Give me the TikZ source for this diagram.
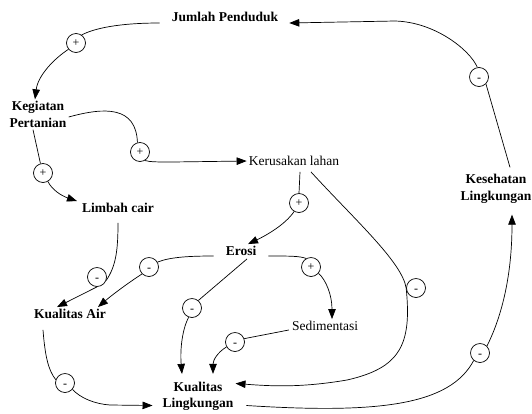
\documentclass[tikz,border=0pt]{standalone}
\usepackage{fontspec}
\setmainfont{Liberation Serif}
\usetikzlibrary{arrows.meta}
\begin{document}
\begin{tikzpicture}[x=1pt,y=-1pt,
  every node/.style={inner sep=2pt, align=center},
  var/.style={font=\fontsize{13.5}{16.5}\selectfont\bfseries},
  plain/.style={font=\fontsize{13.5}{16.5}\selectfont},
  pol/.style={circle, draw, line width=0.7pt, minimum size=19pt, inner sep=0pt,
              font=\fontsize{12}{12}\selectfont},
  link/.style={line width=0.7pt},
  arr/.style={link, -{Triangle[length=10pt,width=7.5pt]}}
]
\useasboundingbox (0,0) rectangle (532,413);

% variables
\node[var]   (jp) at (225,16.5)  {Jumlah Penduduk};
\node[var]   (kp) at (38,114.5)  {Kegiatan\\Pertanian};
\node[plain] (kr) at (294,161)   {Kerusakan lahan};
\node[var]   (lc) at (118,208)   {Limbah cair};
\node[var]   (er) at (241,251)   {Erosi};
\node[plain] (sd) at (325,326)   {Sedimentasi};
\node[var]   (ka) at (70,314)    {Kualitas Air};
\node[var]   (kl) at (198,396.5) {Kualitas\\Lingkungan};
\node[var]   (ks) at (496,189)   {Kesehatan\\Lingkungan};

% polarity markers
\newcommand{\minus}{\vphantom{+}\smash{\raisebox{-1.5pt}{-}}}
\node[pol] (p1)  at (479,77)  {\minus};
\node[pol] (p2)  at (76,43)   {+};
\node[pol] (p3)  at (43,173)  {+};
\node[pol] (p4)  at (140,152) {+};
\node[pol] (p5)  at (299,203) {+};
\node[pol] (p6)  at (416,288) {\minus};
\node[pol] (p7)  at (97,277)  {\minus};
\node[pol] (p8)  at (149,267) {\minus};
\node[pol] (p9)  at (192,308) {\minus};
\node[pol] (p10) at (311,267) {+};
\node[pol] (p11) at (235,342) {\minus};
\node[pol] (p12) at (65,383)  {\minus};
\node[pol] (p13) at (480,353) {\minus};

% Kesehatan Lingkungan -> Jumlah Penduduk
\draw[link] ([shift={(14,-5)}]ks.north) -- (p1.-45);
\draw[arr] (p1.100) .. controls (470,50) and (435,22) .. (395,21) -- ([shift={(9,6.5)}]jp.east);

% Jumlah Penduduk -> Kegiatan Pertanian
\draw[link] ([shift={(-10,6.5)}]jp.west) .. controls (120,23) and (95,28) .. (p2.55);
\draw[arr] (p2.220) .. controls (55,58) and (38,75) .. ([xshift=-3]kp.north);

% Kegiatan Pertanian -> Limbah cair
\draw[link] ([xshift=-5]kp.south) -- (p3.105);
\draw[arr] (p3.-60) .. controls (52,190) and (62,196) .. ([xshift=-3]lc.north west);

% Kegiatan Pertanian -> Kerusakan lahan
\draw[link] ([shift={(0,2.5)}]kp.east) .. controls (105,107) and (136,106) .. (p4.105);
\draw[arr] (p4.-60) .. controls (150,162) and (158,162) .. (172,162) -- (kr.west);

% Kerusakan lahan -> Erosi
\draw[link] ([shift={(6,4)}]kr.south) -- (p5.north);
\draw[arr] (p5.240) .. controls (285,225) and (265,236) .. ([xshift=7]er.north);

% Kerusakan lahan -> Kualitas Lingkungan
\draw[link] ([shift={(17,4)}]kr.south) .. controls (355,220) and (402,262) .. (p6.west);
\draw[arr] (p6.west) .. controls (412,345) and (400,368) .. (347,380)
                     .. controls (300,388) and (270,386) .. ([shift={(0,-13)}]kl.east);

% Limbah cair -> Kualitas Air
\draw[link] ([shift={(0,8)}]lc.south) .. controls (118,250) and (116,266) .. (p7.-20);
\draw[arr] (p7.south) -- ([xshift=-13]ka.north);

% Erosi -> Kualitas Air
\draw[link] ([shift={(-10,5)}]er.west) .. controls (190,256) and (170,257) .. (p8.30);
\draw[arr] (p8.225) .. controls (128,283) and (112,295) .. ([xshift=28]ka.north);

% Erosi -> Kualitas Lingkungan
\draw[link] ([shift={(6,1)}]er.south) -- (p9.50);
\draw[arr] (p9.250) .. controls (182,330) and (180,350) .. ([shift={(-16,-6)}]kl.north);

% Erosi -> Sedimentasi
\draw[link] ([shift={(10,5)}]er.east) .. controls (290,256) and (300,256) .. (p10.120);
\draw[arr] (p10.-40) .. controls (326,280) and (332,295) .. ([xshift=7]sd.north);

% Sedimentasi -> Kualitas Lingkungan
\draw[link] ([shift={(-1,4)}]sd.west) -- (p11.20);
\draw[arr] (p11.210) .. controls (218,352) and (213,360) .. ([shift={(15,-6)}]kl.north);

% Kualitas Air -> Kualitas Lingkungan
\draw[link] ([shift={(-27,9)}]ka.south) .. controls (45,355) and (48,370) .. (p12.160);
\draw[arr] (p12.-40) .. controls (80,398) and (95,404) .. (110,405) -- ([shift={(-8,9)}]kl.west);

% Kualitas Lingkungan -> Kesehatan Lingkungan
\draw[link] ([shift={(11,9)}]kl.east) .. controls (380,414) and (450,405) .. (p13.230);
\draw[arr] (p13.45) .. controls (500,320) and (512,280) .. ([shift={(16,9)}]ks.south);
\end{tikzpicture}
\end{document}
